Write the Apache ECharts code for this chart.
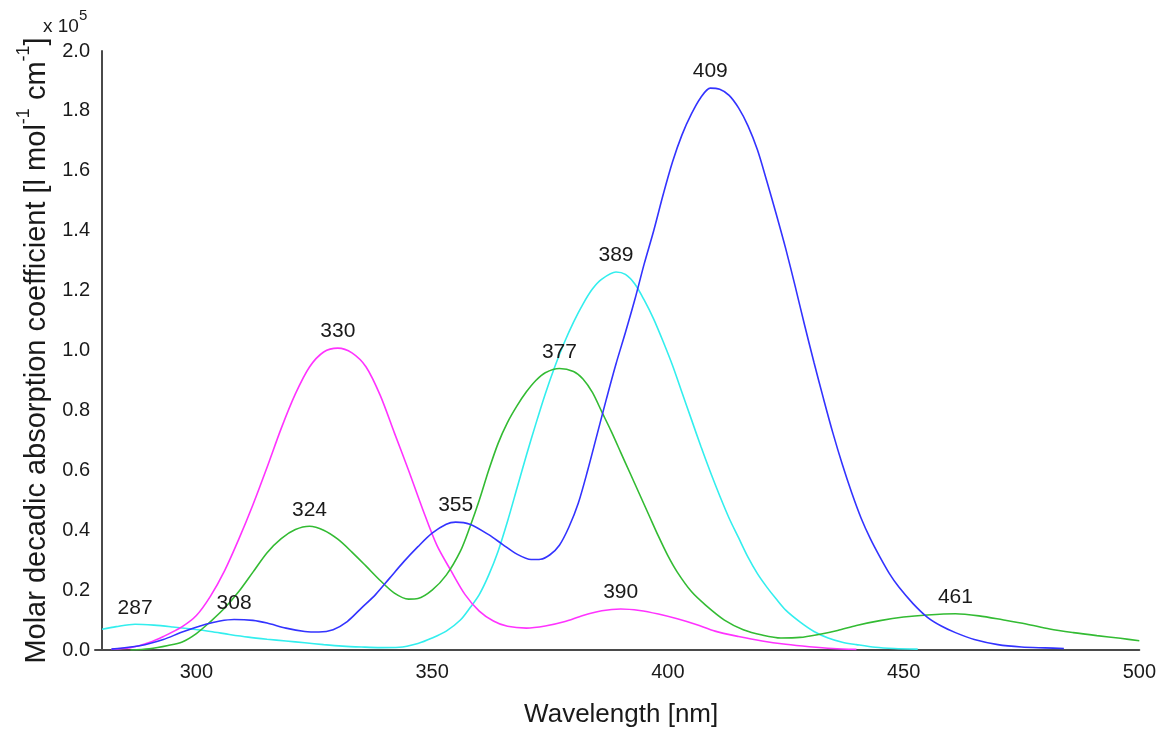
<!DOCTYPE html>
<html>
<head>
<meta charset="utf-8">
<script src="https://cdn.jsdelivr.net/npm/echarts@6/dist/echarts.min.js"></script>
<style>
html,body{margin:0;padding:0;background:#fff;}
#chart{width:1159px;height:733px;}
</style>
</head>
<body>
<div id="chart"></div>
<script>
// ---- data (absorption in units of 10^5 l mol-1 cm-1) ----
const cyanNm  = [280,283,287,291,295,299,303,307,311,315,319,323,327,331,335,339,343,347,350,353,356,358,360,362,364,366,368,370,372,374,376,378,380,382,384,386,389,391,393,395,397,399,401,403,405,407,409,411,413,415,417,419,421,423,425,428,431,434,437,440,444,448,453];
const cyanVal = [0.069,0.078,0.086,0.083,0.077,0.070,0.062,0.052,0.043,0.036,0.030,0.024,0.018,0.013,0.010,0.008,0.009,0.022,0.040,0.063,0.100,0.140,0.185,0.250,0.330,0.430,0.540,0.650,0.755,0.855,0.945,1.025,1.095,1.155,1.205,1.238,1.262,1.254,1.222,1.168,1.105,1.030,0.950,0.860,0.770,0.680,0.595,0.515,0.440,0.375,0.310,0.255,0.210,0.170,0.133,0.094,0.062,0.040,0.026,0.018,0.009,0.005,0.003];

const magentaNm  = [282,286,290,293,297,300,303,306,309,312,315,318,321,324,327,330,333,336,339,342,345,348,351,354,357,360,363,366,370,374,378,382,386,390,394,398,402,406,410,415,420,425,430,435,440];
const magentaVal = [0.003,0.008,0.025,0.045,0.078,0.115,0.180,0.265,0.370,0.485,0.610,0.740,0.855,0.945,0.995,1.008,0.992,0.945,0.850,0.725,0.600,0.470,0.350,0.265,0.185,0.130,0.097,0.079,0.073,0.080,0.094,0.115,0.131,0.137,0.132,0.120,0.104,0.085,0.063,0.045,0.030,0.019,0.011,0.005,0.002];

const greenNm  = [286,290,294,297,300,303,306,309,312,315,318,321,324,327,330,333,336,339,342,345,347,350,353,356,358,360,362,364,366,368,370,372,374,377,380,382,384,386,388,390,392,394,396,398,400,402,405,408,412,416,420,424,428,432,436,440,445,450,455,461,466,471,476,481,486,491,496,500];
const greenVal = [0.000,0.004,0.015,0.027,0.055,0.095,0.140,0.195,0.260,0.325,0.372,0.402,0.413,0.400,0.370,0.327,0.280,0.232,0.190,0.170,0.172,0.200,0.250,0.330,0.410,0.500,0.600,0.690,0.760,0.815,0.862,0.900,0.926,0.940,0.930,0.905,0.860,0.795,0.730,0.660,0.590,0.520,0.450,0.380,0.315,0.260,0.195,0.150,0.100,0.068,0.050,0.040,0.042,0.052,0.065,0.082,0.098,0.110,0.117,0.121,0.114,0.101,0.087,0.070,0.058,0.048,0.039,0.031];

const blueNm  = [282,288,293,297,302,305,308,312,315,319,323,326,329,332,335,338,341,344,347,350,353,355,358,362,365,368,371,373,375,377,379,381,383,385,387,389,391,393,395,397,399,401,403,405,407,409,411,413,415,417,419,421,423,425,427,429,431,433,435,437,439,441,443,445,447,449,452,455,458,461,465,470,475,480,484];
const blueVal = [0.003,0.014,0.035,0.060,0.086,0.097,0.102,0.099,0.090,0.073,0.062,0.060,0.068,0.095,0.140,0.185,0.240,0.295,0.345,0.390,0.420,0.427,0.420,0.385,0.352,0.320,0.302,0.303,0.318,0.350,0.410,0.490,0.600,0.720,0.840,0.955,1.060,1.170,1.290,1.400,1.520,1.630,1.720,1.790,1.845,1.876,1.872,1.852,1.810,1.750,1.670,1.565,1.455,1.340,1.215,1.085,0.960,0.840,0.725,0.620,0.525,0.440,0.370,0.310,0.255,0.210,0.155,0.110,0.080,0.058,0.035,0.018,0.010,0.007,0.005];

// peak annotations (wavelength of maximum, value there)
const peakNm  = [287, 308, 324, 330, 355, 377, 389, 390, 409, 461];
const peakVal = [0.086, 0.102, 0.413, 1.008, 0.427, 0.940, 1.262, 0.137, 1.876, 0.121];

const xTitle = 'Wavelength [nm]';
const FONT = '"Liberation Sans", Arial, sans-serif';
const INK = '#1a1a1a';

function zip(a, b) { return a.map((v, i) => [v, b[i]]); }

function lineSeries(name, nm, val, color) {
  return {
    name: name, type: 'line', data: zip(nm, val),
    smooth: 0.3, showSymbol: false, symbol: 'none',
    lineStyle: { color: color, width: 1.6 },
    itemStyle: { color: color },
    silent: true, animation: false
  };
}

const chart = echarts.init(document.getElementById('chart'), null, { renderer: 'canvas' });
chart.setOption({
  backgroundColor: '#ffffff',
  animation: false,
  grid: { left: 95, right: 19, top: 51, bottom: 80, containLabel: false },
  xAxis: {
    type: 'value', min: 278.5, max: 500,
    name: xTitle, nameLocation: 'middle', nameGap: 52,
    nameTextStyle: { fontFamily: FONT, fontSize: 26, color: INK, padding: [0, 0, 0, 8] },
    axisLine: { show: true, lineStyle: { color: '#4a4a4a', width: 2 } },
    axisTick: { show: false },
    splitLine: { show: false },
    axisLabel: { showMinLabel: false, margin: 12, fontFamily: FONT, fontSize: 20, color: INK }
  },
  yAxis: {
    type: 'value', min: 0, max: 2.0, interval: 0.2, offset: -7,
    name: '{a|Molar decadic absorption coefficient [l mol}{s|-1}{a| cm}{s|-1}{a|]}',
    nameLocation: 'middle', nameRotate: 90, nameGap: 50,
    nameTextStyle: {
      fontFamily: FONT, fontSize: 29, color: INK,
      rich: {
        a: { fontFamily: FONT, fontSize: 29, color: INK, lineHeight: 36, verticalAlign: 'bottom' },
        s: { fontFamily: FONT, fontSize: 18, color: INK, lineHeight: 36, verticalAlign: 'top' }
      }
    },
    axisLine: { show: true, lineStyle: { color: '#4a4a4a', width: 2 } },
    axisTick: { show: false },
    splitLine: { show: false },
    axisLabel: { margin: 12, fontFamily: FONT, fontSize: 20, color: INK, formatter: v => v.toFixed(1) }
  },
  graphic: [{
    type: 'text', left: 43, top: 8, silent: true,
    style: {
      text: '{a|x 10}{s|5}',
      rich: {
        a: { fontFamily: FONT, fontSize: 19, fill: INK, lineHeight: 28, verticalAlign: 'bottom' },
        s: { fontFamily: FONT, fontSize: 15, fill: INK, lineHeight: 28, verticalAlign: 'top' }
      }
    }
  }],
  series: [
    lineSeries('cyan', cyanNm, cyanVal, '#33eeee'),
    lineSeries('magenta', magentaNm, magentaVal, '#ff33ff'),
    lineSeries('green', greenNm, greenVal, '#33bb33'),
    lineSeries('blue', blueNm, blueVal, '#3333ff'),
    {
      name: 'peaks', type: 'scatter', data: zip(peakNm, peakVal),
      symbolSize: 0, itemStyle: { color: INK, opacity: 1 }, silent: true,
      label: {
        show: true, position: 'top', distance: 6,
        fontFamily: FONT, fontSize: 21, color: INK, opacity: 1,
        formatter: p => String(p.value[0])
      },
      z: 5
    }
  ]
});
</script>
</body>
</html>
